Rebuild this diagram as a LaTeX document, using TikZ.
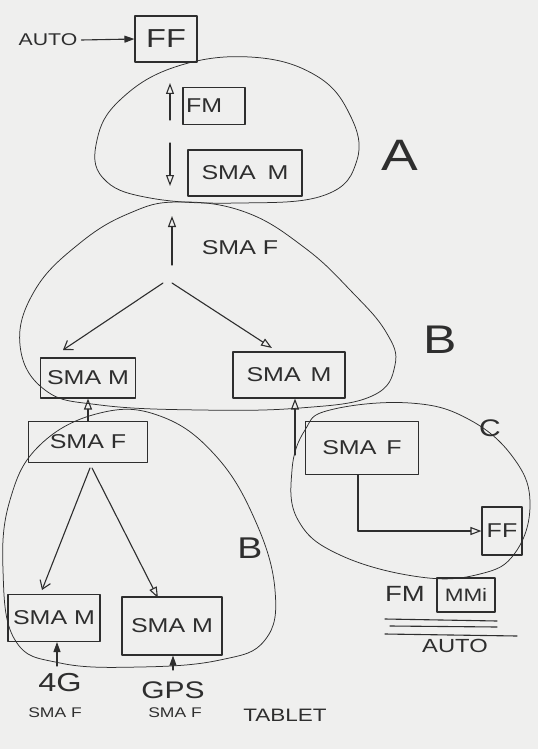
\documentclass[tikz,border=0pt]{standalone}
\usepackage{fontspec}
\setmainfont{Liberation Sans}
\newfontfamily\hand[FakeStretch=1.25]{Liberation Sans}
\usetikzlibrary{arrows.meta,calc}
\definecolor{pencol}{HTML}{2E2E2E}
\definecolor{paper}{HTML}{EFEFEE}
\begin{document}
\begin{tikzpicture}[x=1pt,y=-1pt,
 ink/.style={draw=pencol, line width=1.1pt, line cap=round, line join=round},
 blob/.style={draw=pencol, line width=0.75pt},
 box/.style={ink, rectangle, inner sep=0pt, text=pencol, font={\hand\fontsize{20}{22}\selectfont}},
 lbl/.style={text=pencol, inner sep=0pt},
 tri/.style={ink, -{Triangle[open, length=11pt, width=8pt]}},
 barb/.style={ink, -{Straight Barb[length=8pt, width=11pt]}},
 solid tip/.style={ink, -{Triangle[length=10pt, width=7pt]}},
]
\useasboundingbox[fill=paper] (0,0) rectangle (538,749);

% ---- top: AUTO -> FF
\node[lbl, font={\hand\fontsize{17}{20}\selectfont}] (autoTop) at (48,40) {AUTO};
\node[box, minimum width=62pt, minimum height=46pt, font={\hand\fontsize{26}{28}\selectfont}] (ffTop) at (166,39) {FF};
\draw[solid tip] (autoTop.east) ++(4,0) coordinate (autoOut) -- (ffTop.west);

% ---- group A
\draw[blob] plot[smooth cycle, tension=0.7] coordinates {(250,57) (315,75) (350,115) (357,160) (325,195) (240,203) (150,198) (103,178) (97,140) (120,100) (175,67)};
\node[box, minimum height=37pt, text width=56pt, inner xsep=3pt, align=left] (fmA) at (214,106) {FM};
\node[box, minimum width=114pt, minimum height=46pt] (smamA) at (245,173) {SMA\hspace{12pt}M};
\coordinate (fmUp0) at (170,120);
\coordinate (fmUp1) at (170,83);
\draw[tri] (fmUp0) -- (fmUp1);
\coordinate (smDn0) at (170,143);
\coordinate (smDn1) at (170,186);
\draw[tri] (smDn0) -- (smDn1);
\node[lbl, font={\hand\fontsize{44}{46}\selectfont}] (labA) at (400,155) {A};

% ---- group B (upper)
\draw[blob] plot[smooth cycle, tension=0.7] coordinates {(178,202) (245,212) (305,248) (352,292) (386,332) (395,365) (372,396) (300,408) (200,410) (100,405) (45,390) (20,345) (35,290) (80,243) (130,213)};
\node[lbl, font={\hand\fontsize{20}{22}\selectfont}] (smafB) at (240,248) {SMA F};
\coordinate (bUp0) at (172,265);
\coordinate (bUp1) at (172,216);
\draw[tri] (bUp0) -- (bUp1);
\node[box, minimum width=95pt, minimum height=40pt] (smamBL) at (88,378) {SMA M};
\node[box, minimum width=112pt, minimum height=46pt] (smamBR) at (289,375) {SMA\hspace{10pt}M};
\coordinate (splitL) at (163,283);
\coordinate (splitR) at (172,283);
\coordinate (endL) at (63,350);
\coordinate (endR) at (272,348);
\draw[barb] (splitL) -- (endL);
\draw[tri] (splitR) -- (endR);
\node[lbl, font={\hand\fontsize{40}{42}\selectfont}] (labB1) at (440,340) {B};

% ---- group B (lower)
\draw[blob] plot[smooth cycle, tension=0.7] coordinates {(100,413) (160,416) (215,455) (255,520) (275,590) (265,640) (220,660) (140,667) (60,663) (15,640) (3,570) (10,500) (40,445)};
\node[box, minimum width=119pt, minimum height=41pt] (smafL) at (88,442) {SMA F};
\draw[tri] (smafL.north) -- (smamBL.south);
\node[box, minimum width=92pt, minimum height=47pt] (smamLL) at (54,618) {SMA M};
\node[box, minimum width=100pt, minimum height=58pt] (smamLR) at (172,626) {SMA M};
\coordinate (split2L) at (90,468);
\coordinate (split2R) at (92,468);
\coordinate (end2L) at (42,590);
\coordinate (end2R) at (158,598);
\draw[barb] (split2L) -- (end2L);
\draw[tri] (split2R) -- (end2R);
\node[lbl, font={\hand\fontsize{30}{32}\selectfont}] (labB2) at (250,548) {B};

% inputs at the bottom
\node[lbl, font={\hand\fontsize{26}{28}\selectfont}] (in4g) at (60,683) {4G};
\node[lbl, font={\hand\fontsize{14}{16}\selectfont}] (in4gs) at (55,713) {SMA F};
\node[lbl, font={\hand\fontsize{24}{26}\selectfont}] (ingps) at (173,690) {GPS};
\node[lbl, font={\hand\fontsize{14}{16}\selectfont}] (ingpss) at (175,713) {SMA F};
\node[lbl, font={\hand\fontsize{18}{20}\selectfont}] (tablet) at (285,715) {TABLET};
\coordinate (up4g0) at (57,666);
\draw[solid tip] (up4g0) -- (smamLL.south -| up4g0);
\coordinate (upgps0) at (173,670);
\draw[solid tip] (upgps0) -- (smamLR.south -| upgps0);

% ---- group C
\draw[blob] plot[smooth cycle, tension=0.7] coordinates {(330,410) (410,403) (470,420) (515,460) (530,505) (515,553) (480,574) (420,577) (340,555) (298,520) (292,470) (305,430)};
\node[box, minimum width=113pt, minimum height=53pt] (smafC) at (362,448) {SMA\hspace{10pt}F};
\node[box, minimum width=40pt, minimum height=48pt] (ffC) at (502,531) {FF};
\coordinate (cUp0) at (295,455);
\draw[tri] (cUp0) -- (smamBR.south -| cUp0);
\coordinate (cBend) at (358,531);
\draw[tri] (smafC.south -| cBend) -- (cBend) -- (ffC.west);
\node[lbl, font={\hand\fontsize{24}{26}\selectfont}] (labC) at (490,428) {C};

% ---- FM / MMI / AUTO
\node[lbl, font={\hand\fontsize{22}{24}\selectfont}] (fmB) at (405,594) {FM};
\node[box, minimum width=58pt, minimum height=34pt, font={\hand\fontsize{18}{20}\selectfont}] (mmi) at (466,595) {MMi};
\draw[ink] (385,619) -- (497,621);
\draw[ink] (390,626) -- (497,627);
\draw[ink] (385,634) -- (517,636);
\node[lbl, font={\hand\fontsize{19}{21}\selectfont}] (autoB) at (455,646) {AUTO};
\end{tikzpicture}
\end{document}
